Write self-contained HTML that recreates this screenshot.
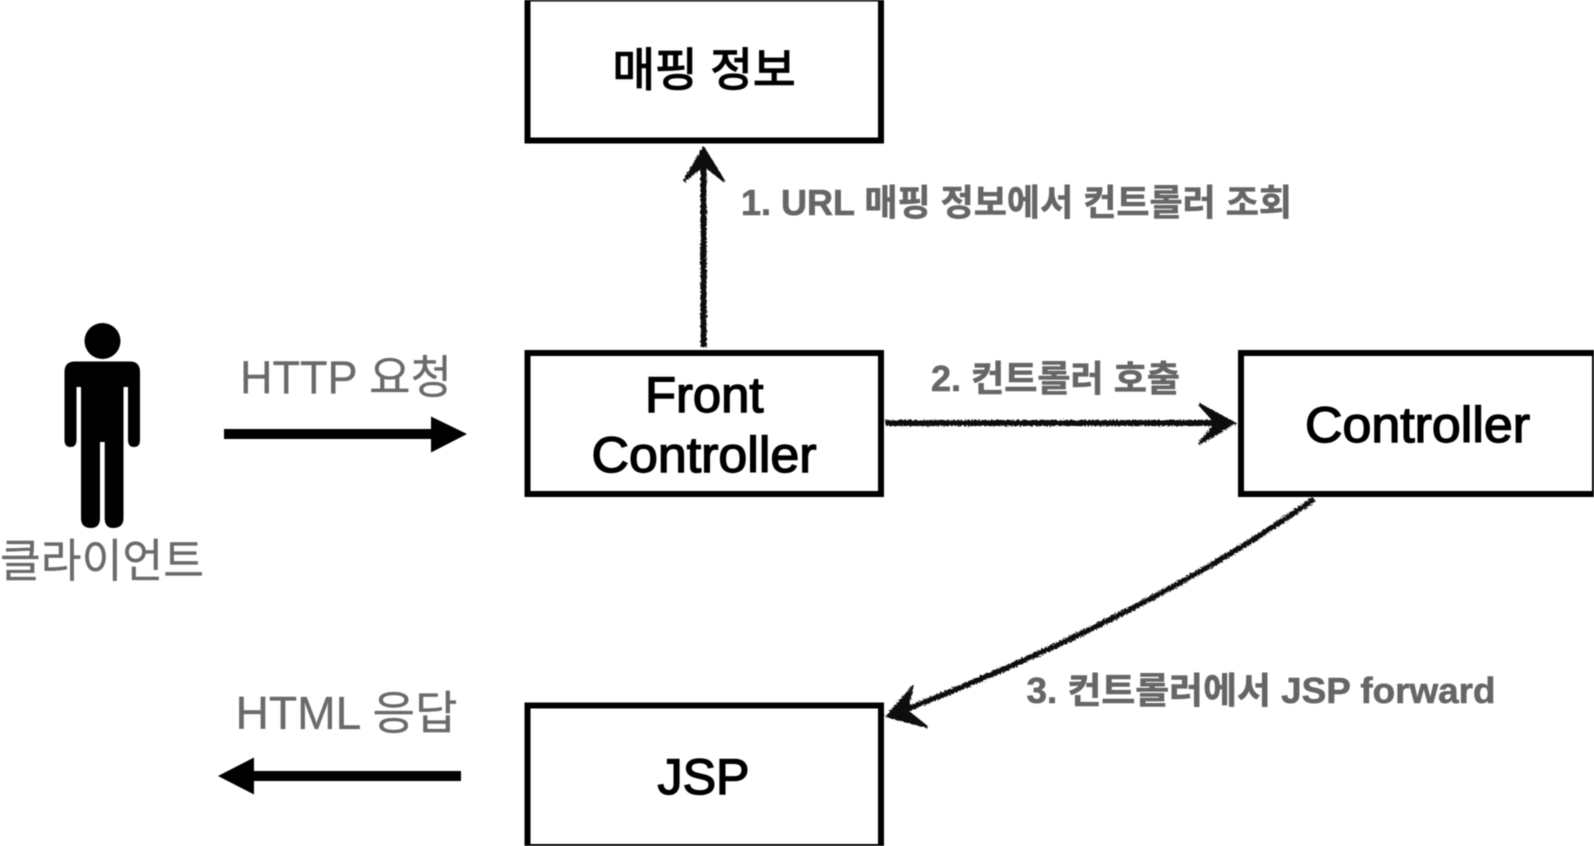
<!DOCTYPE html>
<html><head><meta charset="utf-8">
<style>
html,body{margin:0;padding:0;background:#fff;width:1594px;height:846px;overflow:hidden}
svg{display:block;position:absolute;left:0;top:0;filter:blur(.45px)}
text{font-family:"Liberation Sans","Noto Sans CJK KR",sans-serif}
.g{fill:#6a6a6a;font-size:46px;stroke:#6a6a6a;stroke-width:.3px}
.b{fill:#666;font-size:36px;font-weight:700;stroke:#666;stroke-width:.6px}
.k{fill:#000;font-size:50px;stroke:#000;stroke-width:1.4px}
</style></head><body>
<svg width="1594" height="846" viewBox="0 0 1594 846" xmlns="http://www.w3.org/2000/svg">
<defs>
<filter id="r" x="-20%" y="-20%" width="140%" height="140%"><feTurbulence type="fractalNoise" baseFrequency="0.6" numOctaves="2" seed="3"/><feDisplacementMap in="SourceGraphic" scale="4"/></filter>
</defs>
<g fill="none" stroke="#000" stroke-width="6">
<rect x="527.500" y="-1.500" width="353.500" height="142"/>
<rect x="527.500" y="353" width="353.500" height="141"/>
<rect x="1241" y="353" width="354" height="141"/>
<rect x="527.500" y="705.500" width="353.500" height="141.500"/>
</g>
<!-- person -->
<g fill="#000">
<circle cx="102.500" cy="341" r="18"/>
<path d="M75 361.500H130Q140 361.500 140 372V440Q140 447 134 447Q128 447 128 440V387H123.500V518Q123.500 528 113 528Q104.700 528 104.700 518V442H100V518Q100 528 91 528Q81 528 81 518V387H76.500V440Q76.500 447 70.500 447Q64.500 447 64.500 440V372Q64.500 361.500 75 361.500Z"/>
<path d="M224 429H431V416.500L467 434L431 452.500V439H224Z"/>
<path d="M461 771H254V757.500L218 776L254 794.500V781H461Z"/>
</g>
<!-- sketchy connectors -->
<g fill="none" stroke="#0a0a0a" stroke-width="6" filter="url(#r)">
<path d="M703.500 347V155"/>
<path d="M684 181L703.500 148L724 181L704 165Z" fill="#0a0a0a" stroke-width="2.500"/>
<path d="M885.500 423H1228"/>
<path d="M1199 404L1234 423L1199 444L1216 423Z" fill="#0a0a0a" stroke-width="2.500"/>
<path d="M1314 499Q1152 614 897 713" stroke-width="5.500"/>
<path d="M912 688L887 716L927 727L907 711Z" fill="#0a0a0a" stroke-width="2.500"/>
</g>
<!-- labels -->
<text class="k" x="612.500" y="86" textLength="183" lengthAdjust="spacingAndGlyphs" style="font-size:46px">매핑 정보</text>
<text class="k" x="645" y="412" textLength="118.500" lengthAdjust="spacingAndGlyphs">Front</text>
<text class="k" x="591.500" y="472" textLength="225" lengthAdjust="spacingAndGlyphs">Controller</text>
<text class="k" x="1305" y="442" textLength="225" lengthAdjust="spacingAndGlyphs">Controller</text>
<text class="k" x="657.500" y="794" textLength="92" lengthAdjust="spacingAndGlyphs">JSP</text>
<text class="g" x="240" y="393.500" textLength="212" lengthAdjust="spacingAndGlyphs">HTTP 요청</text>
<text class="g" x="0" y="577" textLength="204" lengthAdjust="spacingAndGlyphs">클라이언트</text>
<text class="g" x="235.500" y="729" textLength="222" lengthAdjust="spacingAndGlyphs">HTML 응답</text>
<text class="b" x="741" y="215" textLength="551" lengthAdjust="spacingAndGlyphs">1. URL 매핑 정보에서 컨트롤러 조회</text>
<text class="b" x="931" y="391" textLength="249" lengthAdjust="spacingAndGlyphs">2. 컨트롤러 호출</text>
<text class="b" x="1026.500" y="703" textLength="469" lengthAdjust="spacingAndGlyphs">3. 컨트롤러에서 JSP forward</text>
</svg>
</body></html>
